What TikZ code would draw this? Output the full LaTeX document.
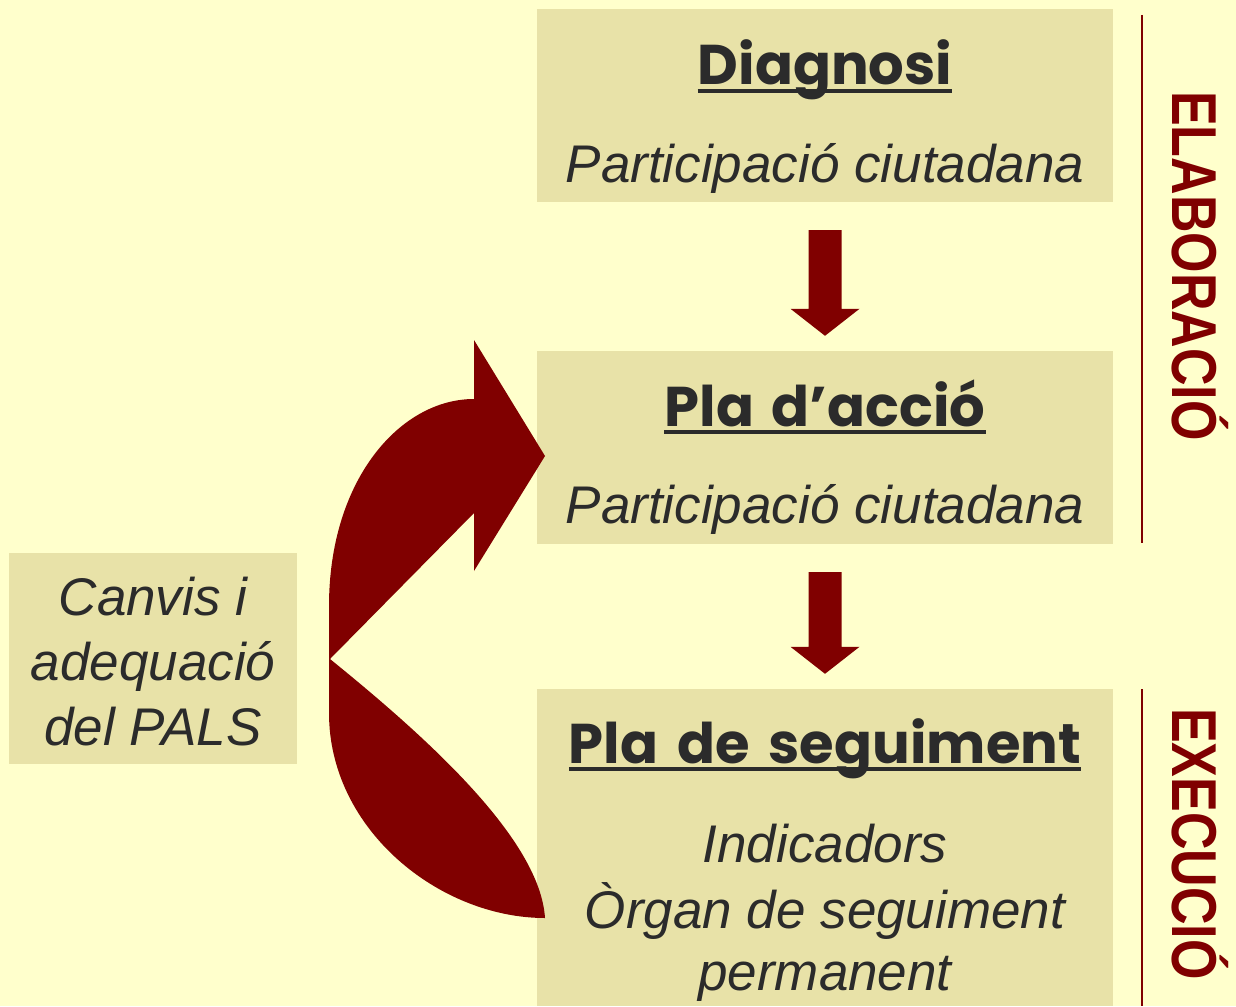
\documentclass[tikz,border=0pt]{standalone}
\usepackage{fontspec}
\setmainfont{Liberation Sans}
\newfontfamily\titlefont{Poppins}
\usetikzlibrary{calc}
\definecolor{bg}{HTML}{FFFFCC}
\definecolor{boxc}{HTML}{E8E2A8}
\definecolor{dred}{HTML}{800000}
\definecolor{ink}{HTML}{2B2B2B}
\newcommand\dnarrow[2]{%
  \fill[dred] ($(#1.south)+(-16.5,28)$) -- ($(#1.south)+(16.5,28)$)
    -- ($(#2.north)+(16.5,-42)$) -- ($(#2.north)+(34.5,-42)$)
    -- ($(#2.north)+(0,-15)$) -- ($(#2.north)+(-34.5,-42)$)
    -- ($(#2.north)+(-16.5,-42)$) -- cycle;}
\begin{document}
\begin{tikzpicture}[x=1pt,y=-1pt,
  box/.style={fill=boxc, draw=none, inner sep=0pt},
  body/.style={font=\fontsize{53}{65}\selectfont\itshape, text=ink, inner sep=0pt, anchor=base},
  ttl/.style={font=\titlefont\bfseries\fontsize{56}{68}\selectfont, text=ink, inner sep=0pt, anchor=base},
  uline/.style={draw=ink, line width=4pt},
  side/.style={font=\bfseries\fontsize{52}{60}\selectfont, text=dred, inner sep=0pt, rotate=-90},
  sep/.style={draw=dred, line width=1.5pt}]
\fill[bg] (0,0) rectangle (1236,1006);
\useasboundingbox (0,0) rectangle (1236,1006);
% boxes
\node[box, minimum width=576pt, minimum height=193pt] (diag) at (825,105.5) {};
\node[box, minimum width=576pt, minimum height=193pt] (accio) at (825,447.5) {};
\node[box, minimum width=576pt, minimum height=317pt] (segui) at (825,847.5) {};
\node[box, minimum width=288pt, minimum height=211pt] (canvis) at (153,658.5) {};
% texts
\node[ttl] (t1) at (825,85) {Diagnosi};
\node[body] (p1) at (825,182) {Participació ciutadana};
\node[ttl] (t2) at (825,426) {Pla\hspace{6pt} d’acció};
\node[body] (p2) at (825,523) {Participació ciutadana};
\node[ttl] (t3) at (825,763) {Pla\hspace{7pt} de\hspace{7pt} seguiment};
\node[body] (s1) at (825,862) {Indicadors};
\node[body] (s2) at (825,928) {Òrgan de seguiment};
\node[body] (s3) at (825,990) {permanent};
\node[body] (c1) at (153,615) {Canvis i};
\node[body] (c2) at (153,680) {adequació};
\node[body] (c3) at (153,745) {del PALS};
% underlines
\foreach \t in {t1,t2,t3}
  \draw[uline] ($(\t.base west)+(0,6)$) -- ($(\t.base east)+(0,6)$);
% down arrows
\dnarrow{diag}{accio}
\dnarrow{accio}{segui}
% curved feedback arrow
\fill[dred] (474,399) -- (474,340) -- (545,456) -- (474,571) -- (474,513)
  -- (330,659) .. controls (430,740) and (540,840) .. (545,918)
  .. controls (440,918) and (329,830) .. (329,713)
  -- (329,606) .. controls (329,480) and (400,399) .. (474,399) -- cycle;
% side rules and labels
\draw[sep] (1142,15) -- (1142,543);
\draw[sep] (1142,689) -- (1142,1006);
\node[side] (elab) at (1200,266) {\scalebox{1}[1.22]{ELABORACIÓ}};
\node[side] (exec) at (1200,844) {\scalebox{1}[1.22]{EXECUCIÓ}};
\end{tikzpicture}
\end{document}
